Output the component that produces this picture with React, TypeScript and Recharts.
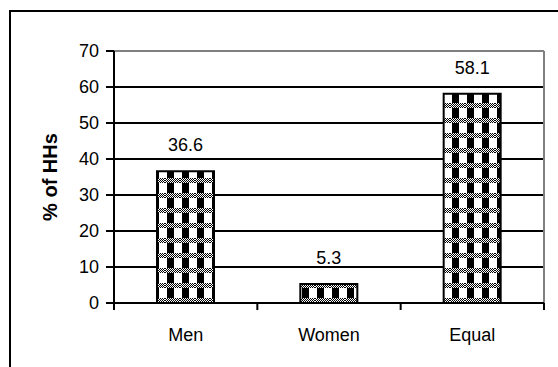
import React from "react";
import {
  BarChart,
  Bar,
  XAxis,
  YAxis,
  CartesianGrid,
  ReferenceLine,
  LabelList,
} from "recharts";

const categories = ["Men", "Women", "Equal"];
const shares = [36.6, 5.3, 58.1];
const yTicks = [0, 10, 20, 30, 40, 50, 60, 70];
const boundaryTicks = [0, 1, 2, 3];

const data = categories.map((name, i) => ({ name, share: shares[i], pos: i + 0.5 }));

const font = "'Liberation Sans', Arial, sans-serif";

const App = () => {
  return (
    <div
      style={{
        position: "absolute",
        left: 0,
        top: 0,
        width: 558,
        height: 367,
        overflow: "hidden",
        background: "#fff",
        fontFamily: font,
      }}
    >
      {/* frame round the whole chart */}
      <div
        style={{
          position: "absolute",
          left: 9,
          top: 10,
          width: 700,
          height: 500,
          borderTop: "2px solid #000",
          borderLeft: "2px solid #000",
        }}
      />
      <div style={{ position: "absolute", left: 0, top: 0 }}>
        <BarChart
          width={558}
          height={367}
          data={data}
          margin={{ top: 51, right: 14, bottom: 33, left: 0 }}
          barCategoryGap="30%"
        >
          <defs>
            <pattern id="dots" width="2" height="2" patternUnits="userSpaceOnUse">
              <rect width="2" height="2" fill="#fff" />
              <rect x="0" y="0" width="1" height="1" fill="#000" />
              <rect x="1" y="1" width="1" height="1" fill="#000" />
            </pattern>
            <pattern
              id="checks"
              x="0"
              y="3"
              width="15"
              height="15"
              patternUnits="userSpaceOnUse"
            >
              <rect width="15" height="15" fill="#fff" />
              <rect x="2" y="0" width="7" height="15" fill="#000" />
              <rect x="0" y="10" width="15" height="5" fill="url(#dots)" />
            </pattern>
          </defs>
          <CartesianGrid horizontal vertical={false} stroke="#000" strokeWidth={2} />
          {/* tick marks between the categories, sitting on the baseline */}
          <XAxis
            xAxisId="bound"
            type="number"
            dataKey="pos"
            domain={[0, 3]}
            ticks={boundaryTicks}
            tickFormatter={() => ""}
            tick={{ fontSize: 1 }}
            axisLine={false}
            tickSize={7}
            tickLine={{ stroke: "#000", strokeWidth: 2 }}
            height={1}
          />
          <XAxis
            xAxisId="cat"
            dataKey="name"
            tickLine={false}
            axisLine={false}
            tickSize={0}
            tickMargin={24}
            height={30}
            tick={{ fill: "#000", fontSize: 18, fontFamily: font }}
          />
          <YAxis
            domain={[0, 70]}
            ticks={yTicks}
            width={114}
            tickSize={8}
            tickMargin={7}
            axisLine={{ stroke: "#000", strokeWidth: 2 }}
            tickLine={{ stroke: "#000", strokeWidth: 2 }}
            tick={{ fill: "#000", fontSize: 18, fontFamily: font }}
            label={{
              value: "% of HHs",
              angle: -90,
              position: "insideLeft",
              offset: 50,
              style: { fontSize: 20, fontWeight: "bold", fill: "#000", fontFamily: font, textAnchor: "middle" },
            }}
          />
          {/* grey plot-area edges, top and right */}
          <ReferenceLine y={70} xAxisId="bound" stroke="#808080" strokeWidth={2} />
          <ReferenceLine x={3} xAxisId="bound" stroke="#808080" strokeWidth={2} />
          <ReferenceLine y={0} xAxisId="bound" stroke="#000" strokeWidth={2} />
          <Bar
            xAxisId="cat"
            dataKey="share"
            fill="url(#checks)"
            stroke="#000"
            strokeWidth={2}
            isAnimationActive={false}
          >
            <LabelList
              dataKey="share"
              position="top"
              offset={20}
              style={{ fill: "#000", fontSize: 18, fontFamily: font }}
            />
          </Bar>
        </BarChart>
      </div>
    </div>
  );
};

export default App;
